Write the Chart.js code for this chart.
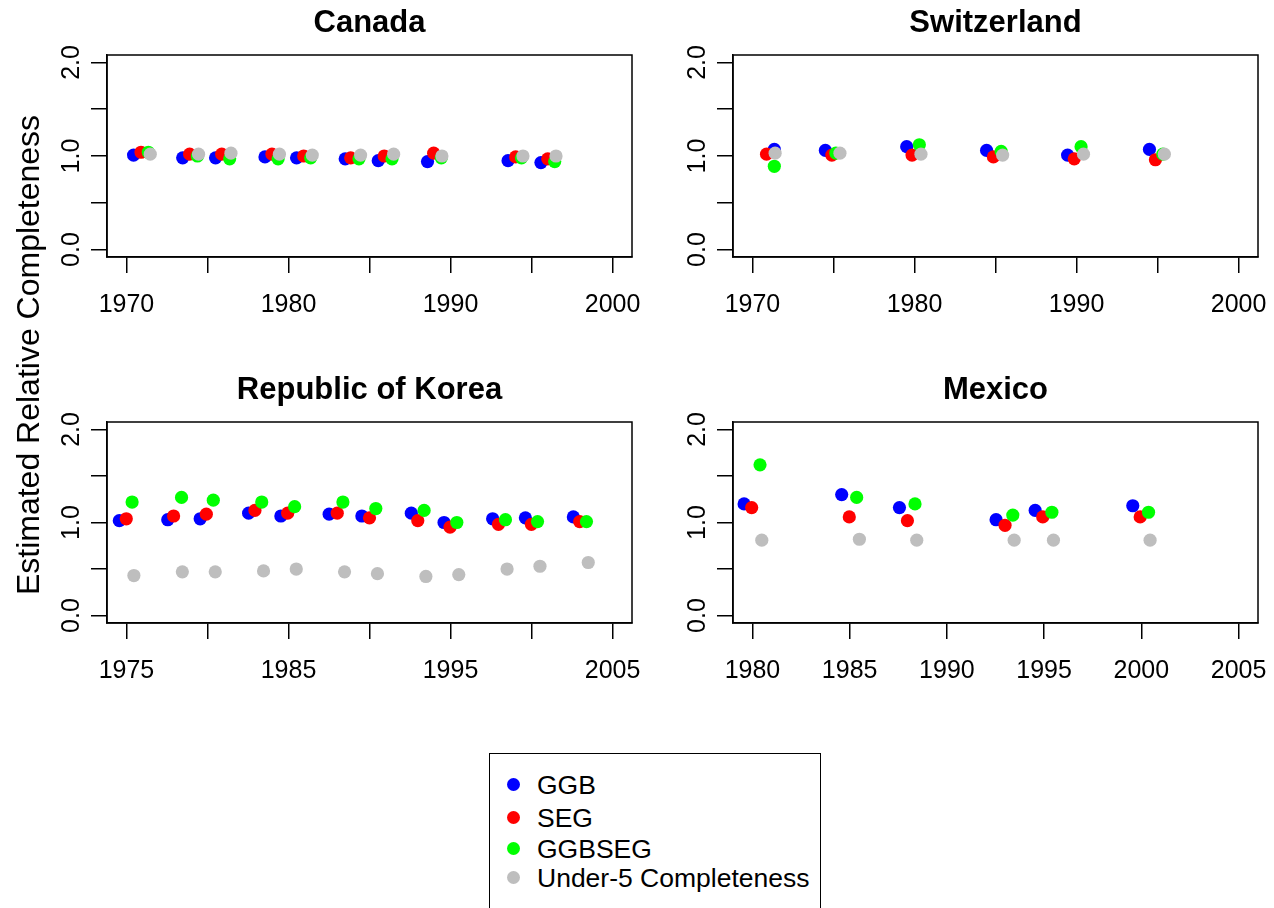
<!DOCTYPE html>
<html>
<head>
<meta charset="utf-8">
<title>Estimated Relative Completeness</title>
<script src="https://cdn.jsdelivr.net/npm/chart.js@4.4.1/dist/chart.umd.min.js"></script>
<style>
  html, body { margin: 0; padding: 0; background: #fff; overflow: hidden; }
  body { width: 1274px; height: 908px; position: relative; font-family: "Liberation Sans", Arial, sans-serif; }
  canvas { position: absolute; }
  #ytitle {
    position: absolute; left: -272px; top: 337px; width: 600px; height: 36px;
    line-height: 36px; text-align: center; font-size: 32px; color: #000;
    transform: rotate(-90deg); transform-origin: 50% 50%; white-space: nowrap;
  }
  #legend {
    position: absolute; left: 489px; top: 753px; width: 332px; height: 170px;
    border: 1.5px solid #000; box-sizing: border-box;
  }
  .row { position: absolute; left: 0; height: 30px; line-height: 30px; font-size: 26.5px; color: #000; white-space: nowrap; }
  .dot { position: absolute; left: 17px; top: 8px; width: 13px; height: 13px; border-radius: 50%; }
  .lab { position: absolute; left: 47px; top: 0; }
</style>
</head>
<body>
<canvas id="c0"></canvas>
<canvas id="c1"></canvas>
<canvas id="c2"></canvas>
<canvas id="c3"></canvas>
<div id="ytitle">Estimated Relative Completeness</div>
<div id="legend"></div>
<script>
// ---- series names and colours ----
const seriesNames = ['GGB', 'SEG', 'GGBSEG', 'Under-5 Completeness'];
const seriesColors = ['#0000FF', '#FF0000', '#00FF00', '#BEBEBE'];

// ---- axis ticks ----
const yTicks = [0, 0.5, 1, 1.5, 2];
const yTickLabels = [0, 1, 2];
const ticksA = [1970, 1975, 1980, 1985, 1990, 1995, 2000];
const labelsA = [1970, 1980, 1990, 2000];
const ticksKorea = [1975, 1980, 1985, 1990, 1995, 2000, 2005];
const labelsKorea = [1975, 1985, 1995, 2005];
const ticksMexico = [1980, 1985, 1990, 1995, 2000, 2005];
const labelsMexico = [1980, 1985, 1990, 1995, 2000, 2005];

// ---- Canada ----
const canadaGGB_x = [1970.44, 1973.47, 1975.50, 1978.55, 1980.50, 1983.50, 1985.54, 1988.58, 1993.55, 1995.58];
const canadaGGB_y = [1.01, 0.98, 0.98, 0.99, 0.98, 0.97, 0.95, 0.94, 0.95, 0.93];
const canadaSEG_x = [1970.90, 1973.90, 1975.88, 1978.98, 1980.94, 1983.84, 1985.91, 1988.96, 1994.02, 1996.00];
const canadaSEG_y = [1.04, 1.02, 1.02, 1.02, 1.00, 0.98, 1.00, 1.03, 0.99, 0.97];
const canadaGGBSEG_x = [1971.35, 1974.38, 1976.37, 1979.36, 1981.37, 1984.35, 1986.39, 1989.43, 1994.38, 1996.43];
const canadaGGBSEG_y = [1.04, 1.00, 0.97, 0.97, 0.98, 0.97, 0.97, 0.98, 0.98, 0.94];
const canadaU5_x = [1971.47, 1974.45, 1976.45, 1979.44, 1981.47, 1984.45, 1986.49, 1989.47, 1994.47, 1996.51];
const canadaU5_y = [1.02, 1.02, 1.03, 1.02, 1.01, 1.01, 1.02, 1.00, 1.00, 1.00];

// ---- Switzerland ----
const swissGGB_x = [1971.35, 1974.50, 1979.52, 1984.45, 1989.45, 1994.50];
const swissGGB_y = [1.07, 1.06, 1.10, 1.06, 1.01, 1.07];
const swissSEG_x = [1970.87, 1974.90, 1979.85, 1984.87, 1989.86, 1994.87];
const swissSEG_y = [1.02, 1.01, 1.01, 0.99, 0.97, 0.96];
const swissGGBSEG_x = [1971.35, 1975.15, 1980.30, 1985.35, 1990.28, 1995.33];
const swissGGBSEG_y = [0.89, 1.03, 1.12, 1.05, 1.10, 1.02];
const swissU5_x = [1971.40, 1975.40, 1980.40, 1985.44, 1990.43, 1995.42];
const swissU5_y = [1.03, 1.03, 1.02, 1.01, 1.02, 1.02];

// ---- Republic of Korea ----
const koreaGGB_x = [1974.56, 1977.55, 1979.55, 1982.54, 1984.53, 1987.51, 1989.53, 1992.58, 1994.60, 1997.60, 1999.62, 2002.58];
const koreaGGB_y = [1.02, 1.03, 1.04, 1.10, 1.07, 1.09, 1.07, 1.10, 1.00, 1.04, 1.05, 1.06];
const koreaSEG_x = [1974.99, 1977.91, 1979.93, 1982.93, 1984.95, 1988.01, 1990.00, 1992.98, 1994.97, 1997.96, 1999.99, 2002.97];
const koreaSEG_y = [1.04, 1.07, 1.09, 1.13, 1.10, 1.10, 1.05, 1.02, 0.95, 0.98, 0.98, 1.01];
const koreaGGBSEG_x = [1975.35, 1978.40, 1980.36, 1983.35, 1985.38, 1988.36, 1990.39, 1993.37, 1995.39, 1998.39, 2000.37, 2003.39];
const koreaGGBSEG_y = [1.22, 1.27, 1.24, 1.22, 1.17, 1.22, 1.15, 1.13, 1.00, 1.03, 1.01, 1.01];
const koreaU5_x = [1975.46, 1978.45, 1980.48, 1983.46, 1985.48, 1988.46, 1990.49, 1993.48, 1995.51, 1998.49, 2000.52, 2003.50];
const koreaU5_y = [0.43, 0.47, 0.47, 0.48, 0.50, 0.47, 0.45, 0.42, 0.44, 0.50, 0.53, 0.57];

// ---- Mexico ----
const mexicoGGB_x = [1979.57, 1984.59, 1987.56, 1992.53, 1994.54, 1999.56];
const mexicoGGB_y = [1.20, 1.30, 1.16, 1.03, 1.13, 1.18];
const mexicoSEG_x = [1979.96, 1984.98, 1987.97, 1992.99, 1994.93, 1999.94];
const mexicoSEG_y = [1.16, 1.06, 1.02, 0.97, 1.06, 1.06];
const mexicoGGBSEG_x = [1980.39, 1985.36, 1988.36, 1993.39, 1995.40, 2000.37];
const mexicoGGBSEG_y = [1.62, 1.27, 1.20, 1.08, 1.11, 1.11];
const mexicoU5_x = [1980.48, 1985.50, 1988.45, 1993.46, 1995.48, 2000.45];
const mexicoU5_y = [0.81, 0.82, 0.81, 0.81, 0.81, 0.81];

// ---- panel layout (page pixels): canvas [left, top, width, height], plot area [left, top, right, bottom] ----
const panels = [
  { id: 'c0', title: 'Canada', canvas: [0, 0, 670, 367], area: [107, 55, 632, 257],
    xmin: 1970, xmax: 2000, ticks: ticksA, labels: labelsA,
    series: [[canadaGGB_x, canadaGGB_y], [canadaSEG_x, canadaSEG_y], [canadaGGBSEG_x, canadaGGBSEG_y], [canadaU5_x, canadaU5_y]] },
  { id: 'c1', title: 'Switzerland', canvas: [637, 0, 637, 367], area: [733, 55, 1258, 257],
    xmin: 1970, xmax: 2000, ticks: ticksA, labels: labelsA,
    series: [[swissGGB_x, swissGGB_y], [swissSEG_x, swissSEG_y], [swissGGBSEG_x, swissGGBSEG_y], [swissU5_x, swissU5_y]] },
  { id: 'c2', title: 'Republic of Korea', canvas: [0, 367, 670, 367], area: [107, 422, 632, 623],
    xmin: 1975, xmax: 2005, ticks: ticksKorea, labels: labelsKorea,
    series: [[koreaGGB_x, koreaGGB_y], [koreaSEG_x, koreaSEG_y], [koreaGGBSEG_x, koreaGGBSEG_y], [koreaU5_x, koreaU5_y]] },
  { id: 'c3', title: 'Mexico', canvas: [637, 367, 637, 367], area: [733, 422, 1258, 623],
    xmin: 1980, xmax: 2005, ticks: ticksMexico, labels: labelsMexico,
    series: [[mexicoGGB_x, mexicoGGB_y], [mexicoSEG_x, mexicoSEG_y], [mexicoGGBSEG_x, mexicoGGBSEG_y], [mexicoU5_x, mexicoU5_y]] }
];

const FONT = '"Liberation Sans", Arial, sans-serif';

// box frame, rotated y labels and panel title
const panelDecor = {
  id: 'panelDecor',
  afterDraw(chart, args, opts) {
    const { ctx, chartArea: a } = chart;
    const y = chart.scales.y;
    ctx.save();
    ctx.strokeStyle = '#000';
    ctx.lineWidth = 1.5;
    ctx.strokeRect(a.left, a.top, a.right - a.left, a.bottom - a.top);
    ctx.fillStyle = '#000';
    ctx.textAlign = 'center';
    ctx.textBaseline = 'middle';
    ctx.font = '25px ' + FONT;
    opts.yLabels.forEach(v => {
      const py = y.getPixelForValue(v);
      ctx.save();
      ctx.translate(a.left - 35, py);
      ctx.rotate(-Math.PI / 2);
      ctx.fillText(v.toFixed(1), 0, 0);
      ctx.restore();
    });
    ctx.font = 'bold 31px ' + FONT;
    ctx.fillText(opts.title, (a.left + a.right) / 2, a.top - 32);
    ctx.restore();
  }
};

panels.forEach(p => {
  const [cl, ct, cw, ch] = p.canvas;
  const [al, at, ar, ab] = p.area;
  const cv = document.getElementById(p.id);
  cv.width = cw; cv.height = ch;
  cv.style.left = cl + 'px'; cv.style.top = ct + 'px';
  cv.style.width = cw + 'px'; cv.style.height = ch + 'px';

  const padX = (p.xmax - p.xmin) * 0.04;
  const yAxisW = al - cl;
  const xAxisH = (ct + ch) - ab;

  const datasets = p.series.map((s, i) => ({
    label: seriesNames[i],
    data: s[0].map((xv, k) => ({ x: xv, y: s[1][k] })),
    backgroundColor: seriesColors[i],
    pointBackgroundColor: seriesColors[i],
    pointBorderWidth: 0,
    pointRadius: 6.6,
    pointHoverRadius: 6.6,
    showLine: false,
    order: seriesNames.length - i
  }));

  new Chart(cv, {
    type: 'scatter',
    data: { datasets },
    plugins: [panelDecor],
    options: {
      responsive: false,
      animation: false,
      devicePixelRatio: 1,
      layout: { padding: { left: 0, top: at - ct, right: (cl + cw) - ar, bottom: 0 } },
      plugins: {
        legend: { display: false },
        tooltip: { enabled: false },
        panelDecor: { title: p.title, yLabels: yTickLabels }
      },
      scales: {
        x: {
          type: 'linear',
          min: p.xmin - padX,
          max: p.xmax + padX,
          afterBuildTicks: s => { s.ticks = p.ticks.map(v => ({ value: v })); },
          afterFit: s => { s.height = xAxisH; s.paddingLeft = 0; s.paddingRight = 0; },
          ticks: {
            autoSkip: false,
            maxRotation: 0,
            minRotation: 0,
            padding: 17,
            color: '#000',
            font: { family: FONT, size: 25 },
            callback: v => (p.labels.includes(v) ? String(v) : '')
          },
          grid: { drawOnChartArea: false, drawTicks: true, tickLength: 16, color: '#000', lineWidth: 1.5 },
          border: { display: true, color: '#000', width: 1.5 }
        },
        y: {
          type: 'linear',
          min: -0.08,
          max: 2.08,
          afterBuildTicks: s => { s.ticks = yTicks.map(v => ({ value: v })); },
          afterFit: s => { s.width = yAxisW; s.paddingTop = 0; s.paddingBottom = 0; },
          ticks: { display: false },
          grid: { drawOnChartArea: false, drawTicks: true, tickLength: 16, color: '#000', lineWidth: 1.5 },
          border: { display: true, color: '#000', width: 1.5 }
        }
      }
    }
  });
});

// legend box
const legend = document.getElementById('legend');
const rowTops = [16, 49, 80, 109];
seriesNames.forEach((name, i) => {
  const row = document.createElement('div');
  row.className = 'row';
  row.style.top = rowTops[i] + 'px';
  const dot = document.createElement('span');
  dot.className = 'dot';
  dot.style.background = seriesColors[i];
  const lab = document.createElement('span');
  lab.className = 'lab';
  lab.textContent = name;
  row.appendChild(dot);
  row.appendChild(lab);
  legend.appendChild(row);
});
</script>
</body>
</html>
